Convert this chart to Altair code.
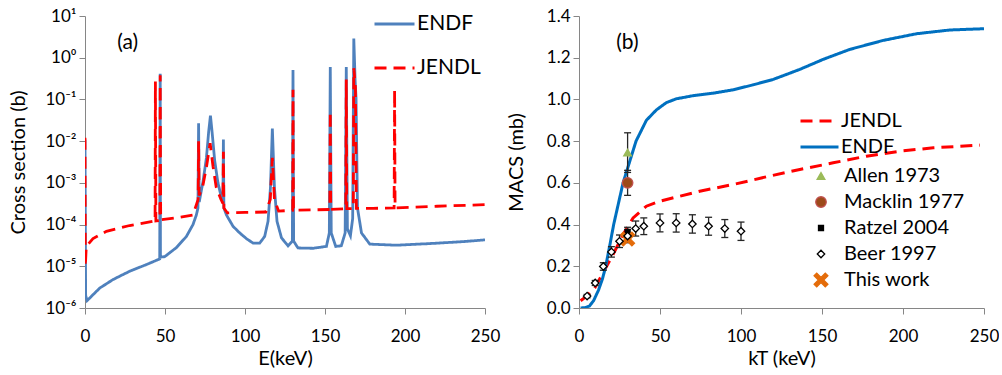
import altair as alt
import pandas as pd

# ---------------- Panel (a): cross sections ----------------
endf_E = [0, 0.4, 1.3, 9.2, 17.5, 27.9, 38.4, 46.7, 47.0, 47.15,
          49.8, 57.1, 63.4, 67.5, 69.6, 70.6, 71.0, 71.4, 73.8, 75.9,
          77.3, 78.4, 79.4, 81.1, 83.1, 85.3, 86.2, 86.5, 86.8, 88.4,
          92.5, 96.7, 100.9, 105.0, 109.2, 112.3, 114.4, 115.9, 117.1, 118.4,
          120.0, 122.8, 126.9, 129.6, 130.0, 130.4, 133.1, 142.5, 150.9, 152.7,
          153.3, 153.9, 156.7, 160.2, 162.6, 163.3, 164.0, 165.9, 167.3, 168.0,
          168.8, 169.4, 170.3, 172.8, 178.0, 194.6, 215.4, 236.3, 250.0]
endf_s = [1.1e-2, 2.0e-6, 1.5e-6, 3.0e-6, 4.8e-6, 7.6e-6, 1.1e-5, 1.5e-5, 0.41, 1.66e-5,
          1.7e-5, 2.8e-5, 5.2e-5, 1.0e-4, 1.7e-4, 2.5e-4, 0.027, 3.5e-4, 1.1e-3, 4.0e-3,
          0.017, 0.041, 0.017, 3.3e-3, 1.0e-3, 4.4e-4, 3.5e-4, 0.011, 2.5e-4, 1.7e-4,
          9.1e-5, 6.3e-5, 4.6e-5, 3.6e-5, 3.6e-5, 5.2e-5, 1.2e-4, 7.6e-4, 0.020, 7.6e-4,
          1.2e-4, 4.8e-5, 3.1e-5, 4.0e-5, 0.51, 4.0e-5, 2.75e-5, 2.7e-5, 3.0e-5, 6.3e-5,
          0.60, 6.3e-5, 3.0e-5, 3.1e-5, 6.3e-5, 0.60, 7.9e-5, 5.4e-5, 1.4e-4, 2.9,
          0.30, 0.11, 2.5e-4, 6.3e-5, 3.4e-5, 3.2e-5, 3.5e-5, 3.9e-5, 4.3e-5]

jendl_E = [0, 0.2, 0.8, 5.0, 13.4, 27.9, 42.5, 43.8, 44.0, 44.3,
           46.8, 47.0, 47.3, 59.2, 67.5, 70.7, 71.0, 71.3, 73.5, 76.0,
           78.2, 80.0, 82.0, 85.0, 86.2, 86.5, 86.8, 89.0, 100.0, 113.0,
           115.8, 117.1, 118.4, 121.0, 129.8, 130.0, 130.3, 153.0, 153.3, 153.6,
           163.0, 163.3, 163.6, 167.7, 168.0, 169.0, 169.6, 180.0, 193.2, 193.5,
           193.8, 220.0, 250.0]
jendl_s = [1.2e-2, 1.0e-5, 3.0e-5, 4.6e-5, 6.9e-5, 9.5e-5, 1.2e-4, 1.2e-4, 0.27, 1.22e-4,
           1.26e-4, 0.38, 1.3e-4, 1.5e-4, 1.7e-4, 4.0e-4, 0.010, 5.0e-4, 7.9e-4, 2.5e-3,
           8.9e-3, 2.5e-3, 7.9e-4, 4.0e-4, 3.2e-4, 5.6e-3, 2.5e-4, 1.9e-4, 1.95e-4, 2.0e-4,
           4.0e-4, 4.0e-3, 4.0e-4, 2.1e-4, 2.2e-4, 0.17, 2.2e-4, 2.3e-4, 0.052, 2.3e-4,
           2.4e-4, 0.30, 2.4e-4, 2.4e-4, 0.56, 0.2, 2.45e-4, 2.45e-4, 2.5e-4, 0.17,
           2.5e-4, 2.75e-4, 3.0e-4]

a_x_ticks = [0, 50, 100, 150, 200, 250]
a_y_ticks = [1e-6, 1e-5, 1e-4, 1e-3, 1e-2, 1e-1, 1e0, 1e1]
a_y_exps = [-6, -5, -4, -3, -2, -1, 0, 1]
a_y_labels = ["10⁻⁶", "10⁻⁵", "10⁻⁴", "10⁻³", "10⁻²", "10⁻¹", "10⁰", "10¹"]

# ---------------- Panel (b): MACS ----------------
b_endf_kT = [1.0, 4.0, 6.5, 9.0, 12.0, 14.5, 16.5, 19.0, 21.4, 24.3, 27.2, 31.2, 35.2, 41.6,
             47.8, 54.0, 60.1, 70.4, 82.8, 95.1, 107.5, 119.9, 136.3, 150.7, 167.2, 187.8,
             208.4, 229.0, 250.0]
b_endf_v = [0.0, 0.002, 0.01, 0.035, 0.085, 0.14, 0.2, 0.3, 0.4, 0.5, 0.6, 0.7, 0.8, 0.9,
            0.95, 0.985, 1.003, 1.018, 1.03, 1.046, 1.07, 1.096, 1.144, 1.192, 1.24, 1.283,
            1.315, 1.333, 1.339]
b_jendl_kT = [1.0, 4.5, 9.7, 14.8, 21.0, 27.2, 33.4, 41.6, 49.8, 62.2, 74.5, 95.1, 115.7,
              136.3, 156.9, 177.5, 198.1, 218.7, 247.5]
b_jendl_v = [0.035, 0.056, 0.096, 0.168, 0.256, 0.352, 0.432, 0.488, 0.512, 0.536, 0.56,
             0.592, 0.629, 0.664, 0.696, 0.728, 0.752, 0.768, 0.781]

beer_kT = [5, 10, 15, 20, 25, 30, 35, 40, 50, 60, 70, 80, 90, 100]
beer_v = [0.057, 0.12, 0.199, 0.269, 0.32, 0.345, 0.381, 0.392, 0.408, 0.408, 0.403, 0.392, 0.381, 0.368]
beer_err = [0.008, 0.012, 0.018, 0.025, 0.03, 0.032, 0.036, 0.04, 0.043, 0.044, 0.044, 0.043, 0.043, 0.044]

exp_series = ["Allen 1973", "Macklin 1977", "Ratzel 2004", "This work"]
exp_kT = [30, 30, 30, 30]
exp_v = [0.745, 0.60, 0.363, 0.331]
exp_err = [0.095, 0.06, 0.024, 0.0]

b_x_ticks = [0, 50, 100, 150, 200, 250]
b_y_ticks = [0.0, 0.2, 0.4, 0.6, 0.8, 1.0, 1.2, 1.4]

FONT = "Lato"
RED = "#FF0000"
BLUE_A = "#4F81BD"
BLUE_B = "#0070C0"
DASH = [12, 7]

# ---------- build panel (a) ----------
dfa = pd.DataFrame({
    "E": endf_E + jendl_E,
    "s": endf_s + jendl_s,
    "series": ["ENDF"] * len(endf_E) + ["JENDL"] * len(jendl_E),
    "i": list(range(len(endf_E))) + list(range(len(jendl_E))),
})

label_expr = ""
for e, t in zip(a_y_exps, a_y_labels):
    label_expr += f"abs(log(datum.value)/LN10 - ({e})) < 0.1 ? '{t}' : "
label_expr += "''"

xa = alt.X("E:Q", scale=alt.Scale(domain=[0, 250], nice=False, zero=False),
           axis=alt.Axis(values=a_x_ticks, title="E(keV)", labelPadding=14, titlePadding=4))
ya = alt.Y("s:Q", scale=alt.Scale(type="log", domain=[1e-6, 10], nice=False),
           axis=alt.Axis(values=a_y_ticks, labelExpr=label_expr, title="Cross section (b)",
                         labelPadding=3, titlePadding=16))

leg_a = alt.Legend(title=None, orient="none", legendX=288, legendY=-2,
                   symbolType="stroke", symbolSize=1600, symbolStrokeWidth=3,
                   labelFontSize=21, labelFont=FONT, labelColor="black",
                   clipHeight=20, rowPadding=23, labelOffset=1)

lines_a = alt.Chart(dfa).mark_line(strokeWidth=2.8, clip=True).encode(
    x=xa, y=ya,
    color=alt.Color("series:N", scale=alt.Scale(domain=["ENDF", "JENDL"], range=[BLUE_A, RED]), legend=leg_a),
    strokeDash=alt.StrokeDash("series:N", scale=alt.Scale(domain=["ENDF", "JENDL"], range=[[1, 0], DASH]), legend=leg_a),
    order=alt.Order("i:Q"),
)

txt_a = alt.Chart(pd.DataFrame({"E": [26.7], "s": [2.2], "t": ["(a)"]})).mark_text(
    fontSize=21, font=FONT, color="black").encode(x=xa, y=ya, text="t:N")

panel_a = alt.layer(lines_a, txt_a).properties(width=400, height=292)

# ---------- build panel (b) ----------
dfb_lines = pd.DataFrame({
    "kT": b_jendl_kT + b_endf_kT,
    "v": b_jendl_v + b_endf_v,
    "model": ["JENDL"] * len(b_jendl_kT) + ["ENDF"] * len(b_endf_kT),
})

pts = pd.DataFrame({
    "kT": exp_kT + beer_kT,
    "v": exp_v + beer_v,
    "err": exp_err + beer_err,
    "series": exp_series + ["Beer 1997"] * len(beer_kT),
})
pts["lo"] = pts["v"] - pts["err"]
pts["hi"] = pts["v"] + pts["err"]
err_pts = pts[pts["err"] > 0]

xb_scale = alt.Scale(domain=[0, 250], nice=False, zero=False)
yb_scale = alt.Scale(domain=[0, 1.4], nice=False)
xb_axis = alt.Axis(values=b_x_ticks, title="kT (keV)", labelPadding=14, titlePadding=4)
yb_axis = alt.Axis(values=b_y_ticks, format=".1f", title="MACS (mb)", labelPadding=3, titlePadding=20)

leg_b_lines = alt.Legend(title=None, orient="none", legendX=220, legendY=95,
                         symbolType="stroke", symbolSize=1444, symbolStrokeWidth=3,
                         labelFontSize=20, labelFont=FONT, labelColor="black",
                         clipHeight=20, rowPadding=6, labelOffset=1)

lines_b = alt.Chart(dfb_lines).mark_line(strokeWidth=3, clip=True).encode(
    x=alt.X("kT:Q", scale=xb_scale, axis=xb_axis),
    y=alt.Y("v:Q", scale=yb_scale, axis=yb_axis),
    color=alt.Color("model:N", scale=alt.Scale(domain=["JENDL", "ENDF"], range=[RED, BLUE_B]), legend=leg_b_lines),
    strokeDash=alt.StrokeDash("model:N", scale=alt.Scale(domain=["JENDL", "ENDF"], range=[DASH, [1, 0]]), legend=leg_b_lines),
)

rules_b = alt.Chart(err_pts).mark_rule(color="#262626", strokeWidth=1.3).encode(
    x=alt.X("kT:Q", scale=xb_scale, axis=xb_axis),
    y=alt.Y("lo:Q", scale=yb_scale, axis=yb_axis),
    y2="hi:Q",
)
cap_lo = alt.Chart(err_pts).mark_tick(orient="horizontal", size=7, thickness=1.3, color="#262626", opacity=1).encode(
    x=alt.X("kT:Q", scale=xb_scale, axis=xb_axis),
    y=alt.Y("lo:Q", scale=yb_scale, axis=yb_axis),
)
cap_hi = alt.Chart(err_pts).mark_tick(orient="horizontal", size=7, thickness=1.3, color="#262626", opacity=1).encode(
    x=alt.X("kT:Q", scale=xb_scale, axis=xb_axis),
    y=alt.Y("hi:Q", scale=yb_scale, axis=yb_axis),
)

pt_domain = ["Allen 1973", "Macklin 1977", "Ratzel 2004", "Beer 1997", "This work"]
X_PATH = "M-1,-0.62L-0.62,-1L0,-0.38L0.62,-1L1,-0.62L0.38,0L1,0.62L0.62,1L0,0.38L-0.62,1L-1,0.62L-0.38,0Z"
leg_b_pts = alt.Legend(title=None, orient="none", legendX=232, legendY=150,
                       labelFontSize=20, labelFont=FONT, labelColor="black",
                       rowPadding=6, labelOffset=13, symbolStrokeWidth=1.3)

points_b = alt.Chart(pts).mark_point(opacity=1, strokeWidth=1.3).encode(
    x=alt.X("kT:Q", scale=xb_scale, axis=xb_axis),
    y=alt.Y("v:Q", scale=yb_scale, axis=yb_axis),
    shape=alt.Shape("series:N", scale=alt.Scale(domain=pt_domain,
                    range=["triangle-up", "circle", "square", "diamond", X_PATH]), legend=leg_b_pts),
    fill=alt.Fill("series:N", scale=alt.Scale(domain=pt_domain,
                  range=["#9BBB59", "#9C4A1A", "#000000", "#FFFFFF", "#E46C0A"]), legend=leg_b_pts),
    stroke=alt.Stroke("series:N", scale=alt.Scale(domain=pt_domain,
                      range=["#9BBB59", "#C0504D", "#000000", "#000000", "#E46C0A"]), legend=leg_b_pts),
    size=alt.Size("series:N", scale=alt.Scale(type="ordinal", domain=pt_domain,
                  range=[60, 110, 25, 55, 190]), legend=leg_b_pts),
)

txt_b = alt.Chart(pd.DataFrame({"kT": [29.9], "v": [1.27], "t": ["(b)"]})).mark_text(
    fontSize=21, font=FONT, color="black").encode(
    x=alt.X("kT:Q", scale=xb_scale, axis=xb_axis),
    y=alt.Y("v:Q", scale=yb_scale, axis=yb_axis),
    text="t:N")

panel_b = alt.layer(lines_b, rules_b, cap_lo, cap_hi, points_b, txt_b).properties(width=405, height=292)

chart = alt.hconcat(panel_a, panel_b, spacing=6).resolve_scale(
    color="independent", strokeDash="independent", shape="independent",
    fill="independent", stroke="independent", size="independent",
).resolve_legend(
    color="independent", strokeDash="independent", shape="independent",
    fill="independent", stroke="independent", size="independent",
).properties(
    padding={"left": 8, "top": 7, "right": 0, "bottom": 0},
    background="white",
).configure(font=FONT).configure_axis(
    domainColor="#868686", tickColor="#868686", tickSize=6, domainWidth=1, tickWidth=1,
    labelFontSize=17, titleFontSize=20, labelColor="black", titleColor="black",
    titleFontWeight="normal", grid=False, labelFont=FONT, titleFont=FONT,
    labelFlush=False, labelOverlap=False,
).configure_view(stroke=None)

chart.save("out.html", embed_options={"renderer": "svg", "actions": False})
